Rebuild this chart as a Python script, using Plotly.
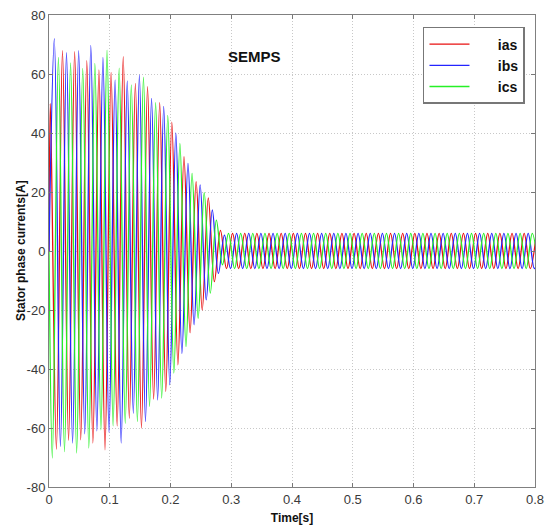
import plotly.graph_objects as go

# ---------------- data ----------------
# Successive extrema (alternating peak / trough, one every half period)
# of each stator phase current [A].
half_period = 0.01          # s (50 Hz supply)
ias_t0 = 0.0022             # time of first extremum [s]
ibs_t0 = 0.0088
ics_t0 = 0.0055

ias_extrema = [50.0, -67.2, 67.9, -64.2, 67.6, -64.0, 64.5, -65.1, 61.4, -67.4,
               60.5, -59.3, 65.9, -56.7, 56.8, -60.0, 55.7, -50.2, 50.3, -47.6,
               43.7, -38.6, 32.0, -27.7, 23.5, -20.0, 18.0, -10.4, 7.0,
               -6.0, 6.0, -6.0, 6.0, -6.0, 6.0, -6.0, 6.0, -6.0, 6.0,
               -6.0, 6.0, -6.0, 6.0, -6.0, 6.0, -6.0, 6.0, -6.0, 6.0,
               -6.0, 6.0, -6.0, 6.0, -6.0, 6.0, -6.0, 6.0, -6.0, 6.0,
               -6.0, 6.0, -6.0, 6.0, -6.0, 6.0, -6.0, 6.0, -6.0, 6.0,
               -6.0, 6.0, -6.0, 6.0, -6.0, 6.0, -6.0, 6.0, -6.0, 6.0,
               -6.0, 6.0]
ibs_extrema = [72.0, -66.3, 67.2, -65.1, 67.9, -62.0, 69.7, -61.0, 65.6, -61.5,
               58.0, -65.1, 57.7, -55.0, 59.7, -57.8, 51.7, -50.5, 49.0, -45.4,
               40.0, -34.7, 29.7, -25.0, 22.4, -16.6, 13.9, -7.6, 5.4,
               -6.0, 6.0, -6.0, 6.0, -6.0, 6.0, -6.0, 6.0, -6.0, 6.0,
               -6.0, 6.0, -6.0, 6.0, -6.0, 6.0, -6.0, 6.0, -6.0, 6.0,
               -6.0, 6.0, -6.0, 6.0, -6.0, 6.0, -6.0, 6.0, -6.0, 6.0,
               -6.0, 6.0, -6.0, 6.0, -6.0, 6.0, -6.0, 6.0, -6.0, 6.0,
               -6.0, 6.0, -6.0, 6.0, -6.0, 6.0, -6.0, 6.0, -6.0, 6.0,
               -6.0, 6.0]
ics_extrema = [-70.2, 65.6, -68.0, 63.8, -68.5, 61.9, -66.8, 63.6, -60.6, 68.1,
               -59.3, 62.0, -58.4, 56.3, -57.8, 58.9, -52.7, 50.3, -49.9, 46.0,
               -41.4, 36.5, -32.4, 26.3, -22.8, 19.8, -14.3, 10.5, -4.7,
               6.0, -6.0, 6.0, -6.0, 6.0, -6.0, 6.0, -6.0, 6.0, -6.0,
               6.0, -6.0, 6.0, -6.0, 6.0, -6.0, 6.0, -6.0, 6.0, -6.0,
               6.0, -6.0, 6.0, -6.0, 6.0, -6.0, 6.0, -6.0, 6.0, -6.0,
               6.0, -6.0, 6.0, -6.0, 6.0, -6.0, 6.0, -6.0, 6.0, -6.0,
               6.0, -6.0, 6.0, -6.0, 6.0, -6.0, 6.0, -6.0, 6.0, -6.0,
               6.0, -6.0]
start_current = 0.0

x_ticks = [0, 0.1, 0.2, 0.3, 0.4, 0.5, 0.6, 0.7, 0.8]
x_tick_labels = ["0", "0.1", "0.2", "0.3", "0.4", "0.5", "0.6", "0.7", "0.8"]
y_ticks = [-80, -60, -40, -20, 0, 20, 40, 60, 80]
y_tick_labels = ["-80", "-60", "-40", "-20", "0", "20", "40", "60", "80"]

series_names = ["ias", "ibs", "ics"]
series_colors = ["#e81010", "#2424ff", "#26f026"]

# ---------------- figure ----------------
def build_xy(t0, extrema):
    xs = [0.0] + [t0 + k * half_period for k in range(len(extrema))]
    ys = [start_current] + list(extrema)
    return xs, ys

fig = go.Figure()
for name, color, t0, ext in zip(series_names, series_colors,
                                 [ias_t0, ibs_t0, ics_t0],
                                 [ias_extrema, ibs_extrema, ics_extrema]):
    xs, ys = build_xy(t0, ext)
    fig.add_trace(go.Scatter(
        x=xs, y=ys, mode="lines", name="\u00a0\u00a0\u00a0\u00a0\u00a0\u00a0<b>" + name + "</b>",
        line=dict(color=color, width=1.3, shape="spline", smoothing=1.0),
    ))

tick_font = dict(family="Liberation Sans, Arial", size=13, color="#3a3a3a")
axis_common = dict(
    showgrid=True, gridcolor="#c8c8c8", griddash="1px,2px", gridwidth=1,
    ticks="inside", ticklen=4, tickcolor="#777777",
    showline=True, linecolor="#808080", linewidth=1, mirror="ticks",
    zeroline=False, tickfont=tick_font, automargin=False,
)

title_font = dict(family="Liberation Sans, Arial", size=12, color="#111111")

fig.update_layout(
    template="none",
    width=547, height=525, autosize=False,
    margin=dict(l=49, r=12, t=15, b=38),
    paper_bgcolor="white", plot_bgcolor="white",
    xaxis=dict(range=[0, 0.8], tickmode="array", tickvals=x_ticks, ticktext=x_tick_labels,
               title=dict(text="<b>Time[s]</b>", standoff=8, font=title_font),
               **axis_common),
    yaxis=dict(range=[-80, 80], tickmode="array", tickvals=y_ticks, ticktext=y_tick_labels,
               **axis_common),
    legend=dict(x=0.7695, y=0.9746, xanchor="left", yanchor="top",
                bgcolor="white", bordercolor="#777777", borderwidth=1.5,
                font=dict(family="Liberation Sans, Arial", size=14, color="#111111"),
                itemwidth=40, tracegroupgap=0),
    showlegend=True,
)

fig.add_annotation(x=-0.0576, y=0.5, xref="paper", yref="paper",
                   text="<b>Stator phase currents[A]</b>", textangle=-90,
                   showarrow=False, xanchor="center", yanchor="middle", font=title_font)

fig.add_annotation(x=0.339, y=66, xref="x", yref="y", text="<b>SEMPS</b>",
                   showarrow=False, xanchor="center", yanchor="middle",
                   font=dict(family="Liberation Sans, Arial", size=15, color="#111111"))

fig.write_html("out.html")
